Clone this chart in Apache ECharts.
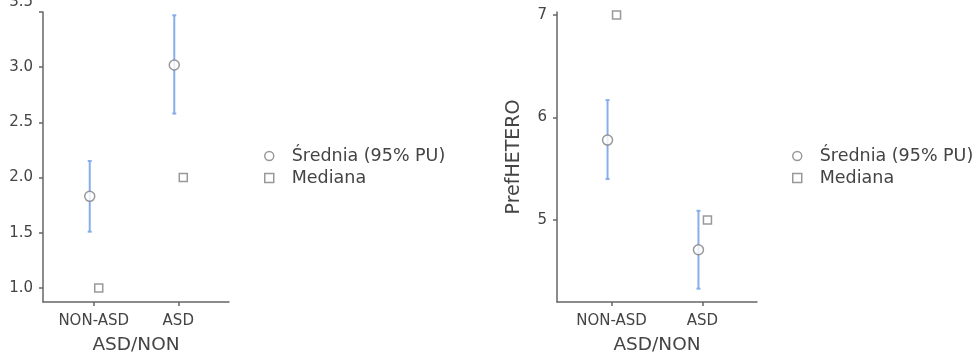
<!DOCTYPE html>
<html>
<head>
<meta charset="utf-8">
<script src="https://cdn.jsdelivr.net/npm/echarts@6/dist/echarts.min.js"></script>
<style>
  html, body { margin: 0; padding: 0; background: #fff; }
  #chart { width: 977px; height: 358px; }
</style>
</head>
<body>
<div id="chart"></div>
<script>
// Categories on the x axis
const categories = ['NON-ASD', 'ASD'];

// Left panel (no y title)
const leftMean = [1.83, 3.02];
const leftLow = [1.51, 2.58];
const leftHigh = [2.15, 3.47];
const leftMedian = [1.0, 2.0];
const leftTicks = [1.0, 1.5, 2.0, 2.5, 3.0, 3.5];

// Right panel: PrefHETERO
const rightMean = [5.78, 4.71];
const rightLow = [5.40, 4.33];
const rightHigh = [6.17, 5.09];
const rightMedian = [7, 5];
const rightTicks = [5, 6, 7];

const legendNames = ['Średnia (95% PU)', 'Mediana'];

const axisColor = '#666';
const textColor = '#444';
const barColor = '#86aeea';
const font = 'DejaVu Sans';

const chart = echarts.init(document.getElementById('chart'));

function xAxisFor(gridIndex) {
  return {
    type: 'value',
    gridIndex: gridIndex,
    min: -0.6,
    max: 1.6,
    name: 'ASD/NON',
    nameLocation: 'middle',
    nameGap: 34,
    nameTextStyle: {color: textColor, fontSize: 18.5, fontFamily: font},
    splitLine: {show: false},
    axisLine: {onZero: false, lineStyle: {color: axisColor, width: 1.5}},
    axisTick: {customValues: [0, 1], length: 4, lineStyle: {color: axisColor, width: 1.5}},
    axisLabel: {
      customValues: [0, 1],
      margin: 12,
      color: textColor,
      fontSize: 15,
      fontFamily: font,
      formatter: v => categories[Math.round(v)]
    }
  };
}

function yAxisFor(gridIndex, min, max, ticks, name, fmt) {
  return {
    type: 'value',
    gridIndex: gridIndex,
    min: min,
    max: max,
    name: name,
    nameLocation: 'middle',
    nameGap: 33,
    nameTextStyle: {color: textColor, fontSize: 19, fontFamily: font},
    splitLine: {show: false},
    axisLine: {show: true, onZero: false, lineStyle: {color: axisColor, width: 1.5}},
    axisTick: {show: true, customValues: ticks, length: 4, lineStyle: {color: axisColor, width: 1.5}},
    axisLabel: {
      customValues: ticks,
      margin: 10,
      color: textColor,
      fontSize: 15,
      fontFamily: font,
      formatter: fmt,
      rich: {top: {fontSize: 15, fontFamily: font, color: textColor, padding: [0, 0, 20, 0]}}
    }
  };
}

function errorBars(xIdx, low, high) {
  return {
    type: 'custom',
    xAxisIndex: xIdx,
    yAxisIndex: xIdx,
    silent: true,
    z: 2,
    data: low.map((l, i) => [i, l, high[i]]),
    renderItem: function (params, api) {
      const top = api.coord([api.value(0), api.value(2)]);
      const bot = api.coord([api.value(0), api.value(1)]);
      const x = top[0] - 4;
      const style = {stroke: barColor, lineWidth: 2};
      return {
        type: 'group',
        children: [
          {type: 'line', shape: {x1: x, y1: top[1], x2: x, y2: bot[1]}, style: style},
          {type: 'line', shape: {x1: x - 2, y1: top[1], x2: x + 2, y2: top[1]}, style: style},
          {type: 'line', shape: {x1: x - 2, y1: bot[1], x2: x + 2, y2: bot[1]}, style: style}
        ]
      };
    }
  };
}

function meanSeries(idx, vals) {
  return {
    name: legendNames[0],
    type: 'scatter',
    xAxisIndex: idx,
    yAxisIndex: idx,
    symbol: 'circle',
    symbolSize: 10,
    symbolOffset: [-4, 0],
    z: 3,
    itemStyle: {color: '#fff', borderColor: '#808080', borderWidth: 1.5},
    data: vals.map((v, i) => [i, v])
  };
}

function medianSeries(idx, vals) {
  return {
    name: legendNames[1],
    type: 'scatter',
    xAxisIndex: idx,
    yAxisIndex: idx,
    symbol: 'rect',
    symbolSize: 8,
    symbolOffset: [5, 0],
    z: 3,
    itemStyle: {color: '#fff', borderColor: '#808080', borderWidth: 1.5},
    data: vals.map((v, i) => [i, v])
  };
}

function legendAt(left) {
  return {
    orient: 'vertical',
    left: left,
    top: 147,
    padding: 0,
    itemWidth: 9,
    itemHeight: 9,
    itemGap: 4,
    selectedMode: false,
    textStyle: {color: textColor, fontSize: 17.5, lineHeight: 18, fontFamily: font, padding: [0, 0, 0, 13]},
    data: [
      {name: legendNames[0], icon: 'circle', itemStyle: {color: '#fff', borderColor: '#808080', borderWidth: 1.5}},
      {name: legendNames[1], icon: 'rect', itemStyle: {color: '#fff', borderColor: '#808080', borderWidth: 1.5}}
    ]
  };
}

const option = {
  backgroundColor: '#fff',
  animation: false,
  grid: [
    {left: 43, top: 12, width: 186, height: 290, outerBoundsMode: 'none'},
    {left: 557, top: 12, width: 200, height: 290, outerBoundsMode: 'none'}
  ],
  legend: [legendAt(264), legendAt(792)],
  xAxis: [xAxisFor(0), xAxisFor(1)],
  yAxis: [
    yAxisFor(0, 0.873, 3.5, leftTicks, '', v => v === 3.5 ? '{top|3.5}' : v.toFixed(1)),
    yAxisFor(1, 4.2, 7.03, rightTicks, 'PrefHETERO', v => String(v))
  ],
  series: [
    errorBars(0, leftLow, leftHigh),
    meanSeries(0, leftMean),
    medianSeries(0, leftMedian),
    errorBars(1, rightLow, rightHigh),
    meanSeries(1, rightMean),
    medianSeries(1, rightMedian)
  ]
};

chart.setOption(option);
</script>
</body>
</html>
